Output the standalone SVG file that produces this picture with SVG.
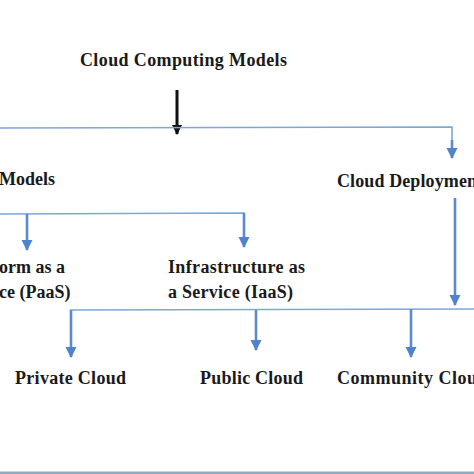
<svg xmlns="http://www.w3.org/2000/svg" width="474" height="474" viewBox="0 0 474 474">
<style>
text{font-family:"Liberation Serif","Times New Roman",serif;font-weight:bold;font-size:18px;fill:#1a1a1a}
.h{stroke:#7ea6d8;stroke-width:1.6;fill:none}
.v{stroke:#5a8ad0;stroke-width:2.6;fill:none}
</style>
<defs>
<marker id="ak" markerWidth="10" markerHeight="10" refX="9" refY="5" orient="auto" markerUnits="userSpaceOnUse" viewBox="0 0 10 10">
<path d="M0,0 L10,5 L0,10 Z" fill="#111"/>
</marker>
<marker id="b" markerWidth="12" markerHeight="12" refX="10" refY="6" orient="auto" markerUnits="userSpaceOnUse" viewBox="0 0 12 12">
<path d="M0,0.5 L11,6 L0,11.5 Z" fill="#4f83cc"/>
</marker>
</defs>
<rect width="474" height="474" fill="#fff"/>
<g id="connectors">
<line x1="177" y1="90" x2="177" y2="134" stroke="#111" stroke-width="3" marker-end="url(#ak)"/>
<polyline class="h" points="0,128 452,127 452,148"/>
<line class="v" x1="452" y1="140" x2="452" y2="158" marker-end="url(#b)"/>
<polyline class="h" points="0,214 244,213 244,236"/>
<line class="v" x1="27" y1="214" x2="27" y2="250" marker-end="url(#b)"/>
<line class="v" x1="244" y1="213" x2="244" y2="247" marker-end="url(#b)"/>
<line class="v" x1="455" y1="198" x2="455" y2="305" marker-end="url(#b)"/>
<line class="h" x1="70" y1="310" x2="474" y2="309"/>
<line class="v" x1="71" y1="310" x2="71" y2="357" marker-end="url(#b)"/>
<line class="v" x1="256" y1="310" x2="256" y2="350" marker-end="url(#b)"/>
<line class="v" x1="411" y1="309" x2="411" y2="357" marker-end="url(#b)"/>
</g>
<g id="node-root"><text x="80" y="66" textLength="207">Cloud Computing Models</text></g>
<g id="node-service"><text x="-1" y="185">Models</text></g>
<g id="node-deployment"><text x="337" y="187" textLength="140">Cloud Deploymen</text></g>
<g id="node-paas"><text x="-1" y="273">orm as a</text><text x="-1" y="298">ce (PaaS)</text></g>
<g id="node-iaas"><text x="168" y="273" textLength="137">Infrastructure as</text><text x="168" y="298" textLength="125">a Service (IaaS)</text></g>
<g id="node-private"><text x="15" y="384" textLength="111">Private Cloud</text></g>
<g id="node-public"><text x="200" y="384" textLength="103">Public Cloud</text></g>
<g id="node-community"><text x="337" y="384" textLength="140">Community Clou</text></g>
<rect x="0" y="471.5" width="474" height="2.5" fill="#8fabc4"/>
</svg>
